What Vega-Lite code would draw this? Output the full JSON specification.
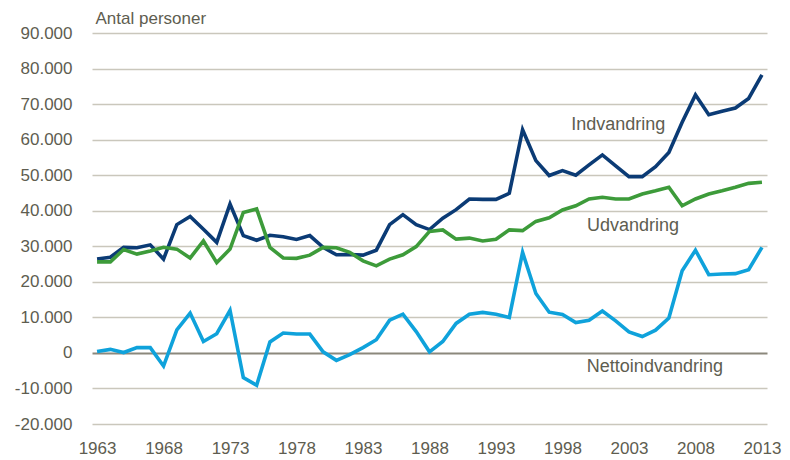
{
  "$schema": "https://vega.github.io/schema/vega-lite/v6.json",
  "width": 675,
  "height": 391,
  "autosize": {"type": "none"},
  "padding": {"left": 92, "top": 33, "right": 23, "bottom": 36},
  "background": "white",
  "config": {"view": {"stroke": null}, "font": "Liberation Sans"},
  "datasets": {
    "migration": [
      {"year": 1963, "Indvandring": 26400, "Udvandring": 25600, "Nettoindvandring": 400},
      {"year": 1964, "Indvandring": 26900, "Udvandring": 25600, "Nettoindvandring": 1000},
      {"year": 1965, "Indvandring": 29700, "Udvandring": 29100, "Nettoindvandring": 100},
      {"year": 1966, "Indvandring": 29600, "Udvandring": 27800, "Nettoindvandring": 1500},
      {"year": 1967, "Indvandring": 30400, "Udvandring": 28700, "Nettoindvandring": 1500},
      {"year": 1968, "Indvandring": 26400, "Udvandring": 29700, "Nettoindvandring": -3700},
      {"year": 1969, "Indvandring": 36100, "Udvandring": 29200, "Nettoindvandring": 6500},
      {"year": 1970, "Indvandring": 38400, "Udvandring": 26700, "Nettoindvandring": 11200},
      {"year": 1971, "Indvandring": 34800, "Udvandring": 31500, "Nettoindvandring": 3200},
      {"year": 1972, "Indvandring": 31100, "Udvandring": 25400, "Nettoindvandring": 5400},
      {"year": 1973, "Indvandring": 41900, "Udvandring": 29200, "Nettoindvandring": 12000},
      {"year": 1974, "Indvandring": 33000, "Udvandring": 39500, "Nettoindvandring": -6950},
      {"year": 1975, "Indvandring": 31700, "Udvandring": 40500, "Nettoindvandring": -9100},
      {"year": 1976, "Indvandring": 33100, "Udvandring": 29700, "Nettoindvandring": 3100},
      {"year": 1977, "Indvandring": 32700, "Udvandring": 26700, "Nettoindvandring": 5600},
      {"year": 1978, "Indvandring": 31900, "Udvandring": 26600, "Nettoindvandring": 5300},
      {"year": 1979, "Indvandring": 33000, "Udvandring": 27500, "Nettoindvandring": 5300},
      {"year": 1980, "Indvandring": 29700, "Udvandring": 29700, "Nettoindvandring": 300},
      {"year": 1981, "Indvandring": 27600, "Udvandring": 29600, "Nettoindvandring": -2100},
      {"year": 1982, "Indvandring": 27700, "Udvandring": 28300, "Nettoindvandring": -500},
      {"year": 1983, "Indvandring": 27500, "Udvandring": 25900, "Nettoindvandring": 1500},
      {"year": 1984, "Indvandring": 28900, "Udvandring": 24500, "Nettoindvandring": 3700},
      {"year": 1985, "Indvandring": 36100, "Udvandring": 26400, "Nettoindvandring": 9200},
      {"year": 1986, "Indvandring": 38900, "Udvandring": 27600, "Nettoindvandring": 10900},
      {"year": 1987, "Indvandring": 36100, "Udvandring": 29900, "Nettoindvandring": 6000},
      {"year": 1988, "Indvandring": 34700, "Udvandring": 34200, "Nettoindvandring": 300},
      {"year": 1989, "Indvandring": 37900, "Udvandring": 34600, "Nettoindvandring": 3200},
      {"year": 1990, "Indvandring": 40300, "Udvandring": 32000, "Nettoindvandring": 8300},
      {"year": 1991, "Indvandring": 43300, "Udvandring": 32300, "Nettoindvandring": 10900},
      {"year": 1992, "Indvandring": 43200, "Udvandring": 31500, "Nettoindvandring": 11400},
      {"year": 1993, "Indvandring": 43200, "Udvandring": 32000, "Nettoindvandring": 10900},
      {"year": 1994, "Indvandring": 44900, "Udvandring": 34600, "Nettoindvandring": 9950},
      {"year": 1995, "Indvandring": 62800, "Udvandring": 34400, "Nettoindvandring": 28300},
      {"year": 1996, "Indvandring": 54100, "Udvandring": 37000, "Nettoindvandring": 16700},
      {"year": 1997, "Indvandring": 49900, "Udvandring": 38000, "Nettoindvandring": 11450},
      {"year": 1998, "Indvandring": 51300, "Udvandring": 40200, "Nettoindvandring": 10800},
      {"year": 1999, "Indvandring": 50000, "Udvandring": 41400, "Nettoindvandring": 8550},
      {"year": 2000, "Indvandring": 52900, "Udvandring": 43300, "Nettoindvandring": 9200},
      {"year": 2001, "Indvandring": 55700, "Udvandring": 43800, "Nettoindvandring": 11800},
      {"year": 2002, "Indvandring": 52600, "Udvandring": 43300, "Nettoindvandring": 9000},
      {"year": 2003, "Indvandring": 49600, "Udvandring": 43300, "Nettoindvandring": 5900},
      {"year": 2004, "Indvandring": 49600, "Udvandring": 44700, "Nettoindvandring": 4600},
      {"year": 2005, "Indvandring": 52400, "Udvandring": 45600, "Nettoindvandring": 6400},
      {"year": 2006, "Indvandring": 56400, "Udvandring": 46600, "Nettoindvandring": 9800},
      {"year": 2007, "Indvandring": 64900, "Udvandring": 41400, "Nettoindvandring": 23100},
      {"year": 2008, "Indvandring": 72600, "Udvandring": 43300, "Nettoindvandring": 28900},
      {"year": 2009, "Indvandring": 67000, "Udvandring": 44700, "Nettoindvandring": 22000},
      {"year": 2010, "Indvandring": 68000, "Udvandring": 45600, "Nettoindvandring": 22200},
      {"year": 2011, "Indvandring": 68900, "Udvandring": 46600, "Nettoindvandring": 22300},
      {"year": 2012, "Indvandring": 71600, "Udvandring": 47700, "Nettoindvandring": 23400},
      {"year": 2013, "Indvandring": 78200, "Udvandring": 48000, "Nettoindvandring": 29700}
    ],
    "labels": [
      {"year": 2002.2, "value": 62700, "label": "Indvandring"},
      {"year": 2003.3, "value": 34400, "label": "Udvandring"},
      {"year": 2004.95, "value": -5300, "label": "Nettoindvandring"}
    ]
  },
  "encoding": {
    "x": {
      "field": "year",
      "type": "quantitative",
      "scale": {"domain": [1962.62, 2013.38], "nice": false, "zero": false},
      "axis": {
        "values": [1963, 1968, 1973, 1978, 1983, 1988, 1993, 1998, 2003, 2008, 2013],
        "format": "d",
        "grid": false,
        "ticks": false,
        "domain": false,
        "labelFontSize": 17,
        "labelColor": "#5e5d50",
        "labelPadding": 16,
        "labelOverlap": false,
        "title": null
      }
    },
    "y": {
      "field": "value",
      "type": "quantitative",
      "scale": {"domain": [-20000, 90000], "nice": false},
      "axis": {
        "values": [-20000, -10000, 0, 10000, 20000, 30000, 40000, 50000, 60000, 70000, 80000, 90000],
        "labelExpr": "(datum.value < 0 ? '-' : '') + replace(format(abs(datum.value), ','), ',', '.')",
        "labelOverlap": false,
        "grid": true,
        "gridColor": {"condition": {"test": "datum.value === 0", "value": "#8b887c"}, "value": "#cac7bc"},
        "gridWidth": {"condition": {"test": "datum.value === 0", "value": 2}, "value": 1.5},
        "ticks": false,
        "domain": false,
        "labelFontSize": 17,
        "labelColor": "#5e5d50",
        "labelPadding": 20,
        "title": "Antal personer",
        "titleAngle": 0,
        "titleAlign": "left",
        "titleBaseline": "alphabetic",
        "titleX": 3,
        "titleY": -10,
        "titleFontSize": 17,
        "titleFontWeight": "normal",
        "titleColor": "#5e5d50"
      }
    }
  },
  "layer": [
    {
      "data": {"name": "migration"},
      "transform": [
        {"fold": ["Indvandring", "Udvandring"], "as": ["series", "value"]}
      ],
      "mark": {"type": "line", "strokeWidth": 3.6, "clip": false},
      "encoding": {
        "color": {
          "field": "series",
          "type": "nominal",
          "scale": {
            "domain": ["Indvandring", "Udvandring"],
            "range": ["#0b3b75", "#3d9b3a"]
          },
          "legend": null
        }
      }
    },
    {
      "data": {"name": "migration"},
      "transform": [
        {"fold": ["Nettoindvandring"], "as": ["series", "value"]}
      ],
      "mark": {"type": "line", "strokeWidth": 3.6, "color": "#0fa2db", "clip": false},
      "encoding": {}
    },
    {
      "data": {"name": "labels"},
      "mark": {"type": "text", "fontSize": 18, "color": "#5e5d50", "align": "center", "baseline": "alphabetic"},
      "encoding": {
        "text": {"field": "label"}
      }
    }
  ]
}
